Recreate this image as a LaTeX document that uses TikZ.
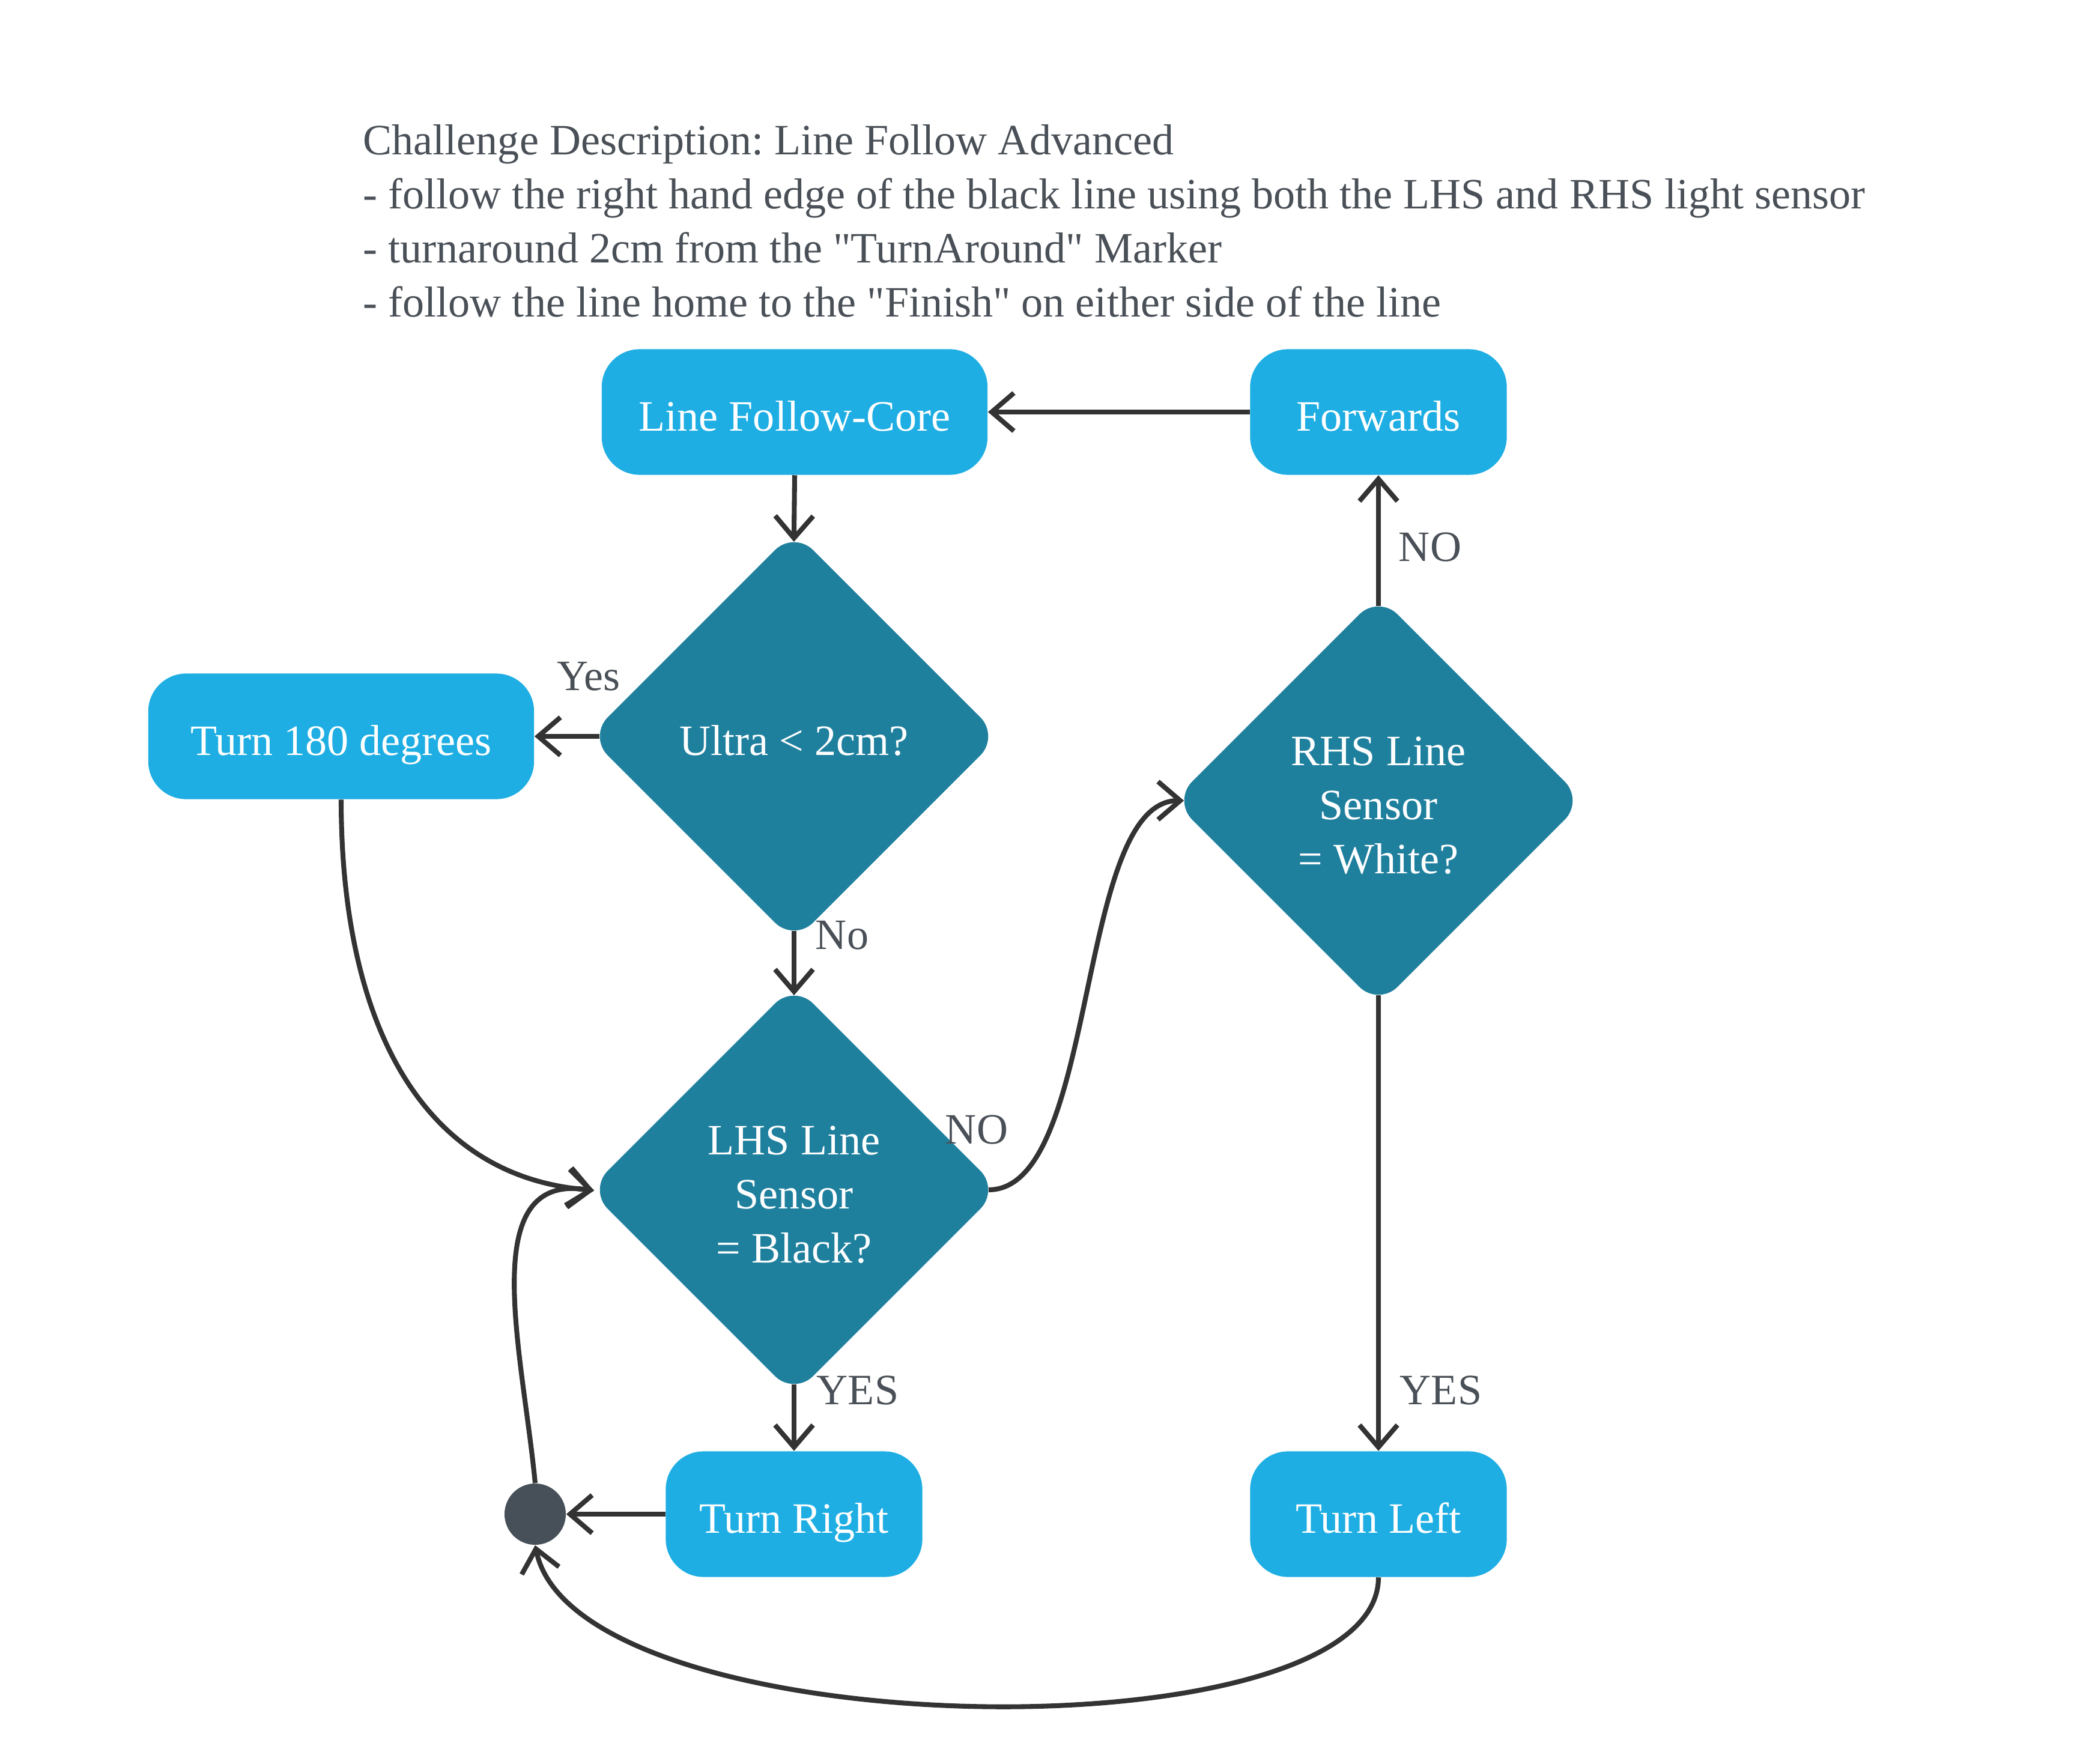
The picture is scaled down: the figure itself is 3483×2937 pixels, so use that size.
\documentclass[tikz,border=0pt]{standalone}
\usepackage{fontspec}
\setmainfont{Liberation Serif}[Ligatures=TeXOff]
\usetikzlibrary{shapes.geometric,arrows.meta}
\definecolor{boxblue}{RGB}{30,174,227}
\definecolor{diamondteal}{RGB}{31,128,158}
\definecolor{dotgray}{RGB}{71,80,89}
\definecolor{linegray}{RGB}{51,51,51}
\definecolor{labelgray}{RGB}{74,80,87}
\newcommand\diagfont{\fontsize{20.5pt}{25.6pt}\selectfont}
\frenchspacing
\begin{document}
\begin{tikzpicture}[x=0.01cm,y=-0.01cm,
  box/.style={rectangle, rounded corners=0.63cm, fill=boxblue, text=white, minimum height=2.09cm, inner sep=0pt, font=\diagfont, text height=17.64pt, text depth=0pt},
  dia/.style={diamond, aspect=1, rounded corners=0.45cm, fill=diamondteal, text=white, minimum width=6.84cm, minimum height=6.84cm, inner sep=0pt, align=center, font=\diagfont, text depth=0pt},
  conn/.style={draw=linegray, line width=2.3pt, -{Straight Barb[length=10.5pt,width=18pt]}},
  lbl/.style={text=labelgray, font=\diagfont, inner sep=0pt}
]
\fill[white] (0,0) rectangle (3483,2937);
\useasboundingbox (0,0) rectangle (3483,2937);

\node[anchor=base west, align=left, text=labelgray, font=\diagfont, inner sep=0pt] (desc) at (604,528)
{Challenge Description: Line Follow Advanced\\- follow the right hand edge of the black line using both the LHS and RHS light sensor\\- turnaround 2cm from the "TurnAround" Marker\\- follow the line home to the "Finish" on either side of the line};

\node[box, minimum width=6.42cm] (core) at (1323,686) {Line Follow-Core};
\node[box, minimum width=4.27cm] (fwd) at (2295,686) {Forwards};
\node[dia, text height=17.64pt] (ultra) at (1322,1226) {Ultra < 2cm?};
\node[box, minimum width=6.42cm] (turn) at (568,1226) {Turn 180 degrees};
\node[dia, text height=68.9pt] (lhs) at (1322,1981) {LHS Line\\Sensor\\= Black?};
\node[dia, text height=68.9pt] (rhs) at (2295,1333) {RHS Line\\Sensor\\= White?};
\node[box, minimum width=4.27cm] (tright) at (1322,2521) {Turn Right};
\node[box, minimum width=4.27cm] (tleft) at (2295,2521) {Turn Left};
\node[circle, fill=dotgray, minimum size=1.02cm, inner sep=0pt] (dot) at (891,2521) {};

\draw[conn] (fwd.west) -- (core.east);
\draw[conn, shorten >=-0.19cm] (core.south) -- (ultra.north);
\draw[conn, shorten <=-0.19cm] (ultra.west) -- (turn.east);
\draw[conn, shorten <=-0.19cm, shorten >=-0.19cm] (ultra.south) -- (lhs.north);
\draw[conn, shorten >=-0.1cm] (turn.south) .. controls (568,1700) and (700,1960) .. (lhs.west);
\draw[conn, shorten <=-0.19cm, shorten >=-0.19cm] (lhs.east) .. controls (1830,1981) and (1790,1333) .. (rhs.west);
\draw[conn, shorten <=-0.19cm] (rhs.north) -- (fwd.south);
\draw[conn, shorten <=-0.19cm] (rhs.south) -- (tleft.north);
\draw[conn, shorten <=-0.19cm] (lhs.south) -- (tright.north);
\draw[conn] (tright.west) -- (dot.east);
\draw[conn, shorten >=-0.1cm] (dot.north) .. controls (870,2250) and (790,1950) .. (lhs.west);
\draw[conn] (tleft.south) .. controls (2295,2930) and (960,2910) .. (dot.south);

\node[lbl] (lyes) at (980,1126) {Yes};
\node[lbl] (lno) at (1402,1557) {No};
\node[lbl] (lno2) at (1626,1881) {NO};
\node[lbl] (lno3) at (2381,911) {NO};
\node[lbl] (lyes2) at (1428,2315) {YES};
\node[lbl] (lyes3) at (2399,2315) {YES};
\end{tikzpicture}
\end{document}
